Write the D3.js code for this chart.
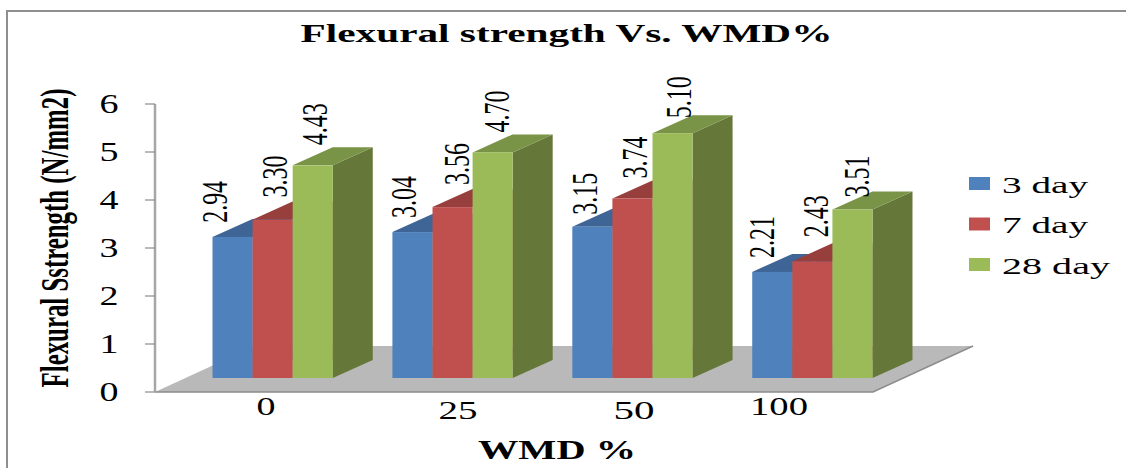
<!DOCTYPE html>
<html>
<head>
<meta charset="utf-8">
<script src="https://cdn.jsdelivr.net/npm/d3@7"></script>
<style>
html,body{margin:0;padding:0;background:#fff}
svg{display:block}
text{font-family:"Liberation Serif",serif;fill:#000}
</style>
</head>
<body>
<div id="chart"></div>
<script>
const categories = ["0", "25", "50", "100"];
const seriesNames = ["3 day", "7 day", "28 day"];
const day3 = [2.94, 3.04, 3.15, 2.21];
const day7 = [3.30, 3.56, 3.74, 2.43];
const day28 = [4.43, 4.70, 5.10, 3.51];
const yTicks = [0, 1, 2, 3, 4, 5, 6];

const chartTitle = "Flexural strength Vs. WMD%";
const xTitle = "WMD %";
const yTitle = "Flexural Sstrength (N/mm2)";

const seriesValues = [day3, day7, day28];
const frontColors = ["#4f81bd", "#c0504d", "#9bbb59"];
const topColors = ["#3e6595", "#973f3d", "#7a9447"];
const sideColors = ["#3a5f8c", "#8e3b39", "#66773a"];

const W = 1126, H = 468;
const svg = d3.select("#chart").append("svg").attr("width", W).attr("height", H);

// Frame of the chart area: only the top and left edges are inside the canvas
svg.append("path")
  .attr("d", d3.line()([[7, H], [7, 11], [W, 11]]))
  .attr("fill", "none").attr("stroke", "#8f8f8f").attr("stroke-width", 2);

// Value scale for the plane the bars stand on, and for the wall axis
const unit = 48;
const yBars = d3.scaleLinear().domain([0, 6]).range([378, 378 - 6 * unit]);
const yWall = d3.scaleLinear().domain([0, 6]).range([392, 104]);

const xGroup = d3.scaleBand().domain(categories).range([183, 902])
  .paddingInner(0.3315).paddingOuter(0.164);
const xSeries = d3.scaleBand().domain(d3.range(seriesNames.length))
  .range([0, xGroup.bandwidth()]);

// Depth vector of each bar, and of the floor
const depth = { x: 40, y: -18 };
const floor = { left: 155, right: 873, front: 392, dx: 100, dy: -46 };

const poly = pts => d3.line()(pts) + "Z";

// Draws a string squeezed or stretched along its own direction to a given length
function fitted(parent, str, size, weight, length, transform) {
  const g = parent.append("g").attr("transform", transform);
  const t = g.append("text").text(str)
    .attr("font-size", size).attr("font-weight", weight);
  const w = t.node().getComputedTextLength();
  t.attr("transform", `scale(${length / w},1)`)
   .attr("text-anchor", "middle");
  return g;
}

// Floor
svg.append("path")
  .attr("d", poly([
    [floor.left, floor.front], [floor.right, floor.front],
    [floor.right + floor.dx, floor.front + floor.dy],
    [floor.left + floor.dx, floor.front + floor.dy]
  ]))
  .attr("fill", "#b9b9b9");
svg.append("path")
  .attr("d", d3.line()([
    [floor.left, floor.front], [floor.right, floor.front],
    [floor.right + floor.dx, floor.front + floor.dy]
  ]))
  .attr("fill", "none").attr("stroke", "#8c8c8c").attr("stroke-width", 1.5);

// Value axis
svg.append("line")
  .attr("x1", floor.left).attr("x2", floor.left)
  .attr("y1", yWall(6)).attr("y2", yWall(0))
  .attr("stroke", "#a6a6a6").attr("stroke-width", 2.5);
svg.selectAll(".tick-mark").data(yTicks).join("line")
  .attr("class", "tick-mark")
  .attr("x1", 145).attr("x2", floor.left)
  .attr("y1", d => yWall(d)).attr("y2", d => yWall(d))
  .attr("stroke", "#8c8c8c").attr("stroke-width", 1.2);
yTicks.forEach(d => {
  fitted(svg, String(d), 27, "normal", 19, `translate(109,${yWall(d) + 9})`);
});

// Bars, left to right so that each one hides the side of its neighbour
categories.forEach((cat, i) => {
  seriesValues.forEach((vals, s) => {
    const x0 = xGroup(cat) + xSeries(s);
    const x1 = x0 + xSeries.bandwidth();
    const y0 = yBars(0), yt = yBars(vals[i]);
    const g = svg.append("g").attr("class", "bar");
    g.append("path").attr("fill", sideColors[s]).attr("d", poly([
      [x1, y0], [x1 + depth.x, y0 + depth.y], [x1 + depth.x, yt + depth.y], [x1, yt]
    ]));
    g.append("path").attr("fill", topColors[s]).attr("d", poly([
      [x0, yt], [x1, yt], [x1 + depth.x, yt + depth.y], [x0 + depth.x, yt + depth.y]
    ]));
    g.append("rect").attr("fill", frontColors[s])
      .attr("x", x0).attr("y", yt)
      .attr("width", x1 - x0).attr("height", y0 - yt);
  });
});

// Value labels sit rotated above the bars; each has its own hand-placed offset
// from the bar centre and top, per series then per category
const labelDx = [[-18, -8, -7, -10], [2, 4, 3, 4], [2, 4, 6, 5]];
const labelGap = [[14, 14, 12, 14], [22, 22, 20, 24], [20, 20, 15, 12]];
categories.forEach((cat, i) => {
  seriesValues.forEach((vals, s) => {
    const cx = xGroup(cat) + xSeries(s) + xSeries.bandwidth() / 2 + labelDx[s][i];
    const bottom = yBars(vals[i]) - labelGap[s][i];
    const label = vals[i].toFixed(2);
    const g = fitted(svg, label, 36, "normal", 42,
      `translate(${cx + 12},${bottom - 21}) rotate(-90)`);
    g.attr("class", "value-label");
  });
});

// Category labels
const catPos = [[266, 415], [458, 419], [634, 419], [779, 415]];
categories.forEach((cat, i) => {
  const len = [19, 39, 41, 58][i];
  fitted(svg, cat, 26, "normal", len, `translate(${catPos[i][0]},${catPos[i][1]})`);
});

// Titles
fitted(svg, chartTitle, 26, "bold", 532, "translate(566.5,42)");
fitted(svg, xTitle, 27, "bold", 158, "translate(557,459)");
fitted(svg, yTitle, 40, "bold", 299, "translate(68,238) rotate(-90)");

// Legend
const legendY = d3.scalePoint().domain(seriesNames).range([183.5, 264.5]);
const legendLen = [86, 86, 108];
seriesNames.forEach((name, i) => {
  svg.append("rect").attr("x", 969).attr("y", legendY(name) - 6.5)
    .attr("width", 21).attr("height", 13).attr("fill", frontColors[i]);
  fitted(svg, name, 24, "normal", legendLen[i],
    `translate(${1002 + legendLen[i] / 2},${legendY(name) + 9})`);
});
</script>
</body>
</html>
